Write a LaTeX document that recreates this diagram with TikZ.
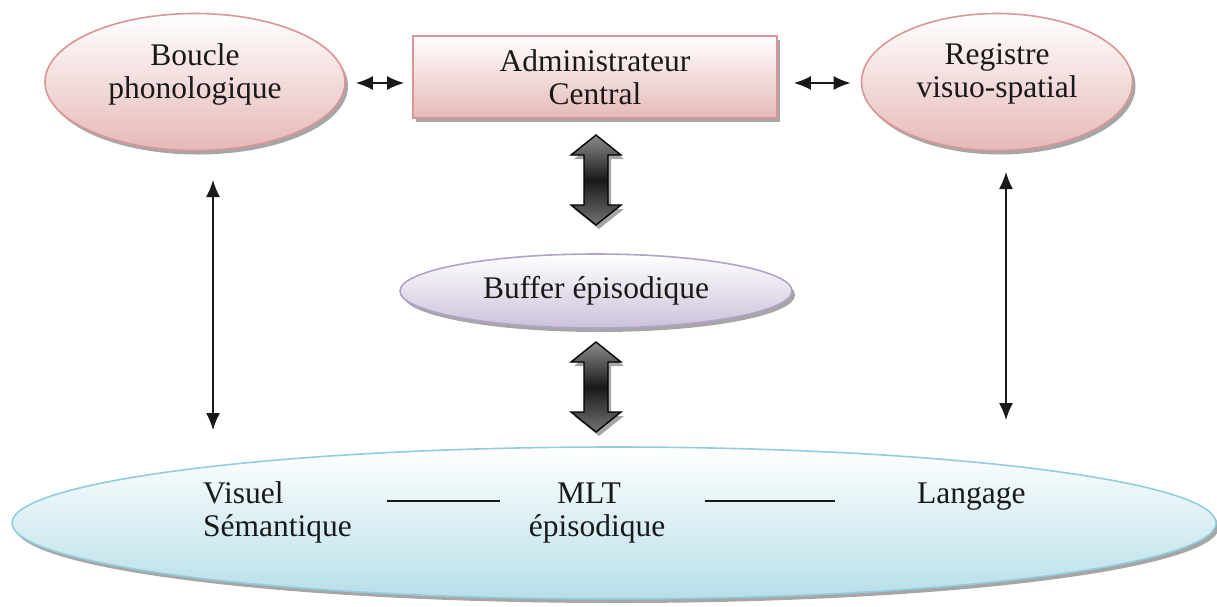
\documentclass[tikz,border=0pt]{standalone}
\usepackage{fontspec}
\setmainfont{Liberation Serif}
\usetikzlibrary{arrows.meta,shapes.geometric,shadows}
\definecolor{pinkfill}{HTML}{E6B9B8}
\definecolor{pinkline}{HTML}{D99694}
\definecolor{lavfill}{HTML}{CCC1DA}
\definecolor{lavline}{HTML}{B3A2C7}
\definecolor{bluefill}{HTML}{B7DEE8}
\definecolor{blueline}{HTML}{93CDDD}
\tikzset{
  txt/.style={font=\fontsize{31.5}{33}\selectfont, text=black!90},
  shad/.style={drop shadow={shadow xshift=3pt, shadow yshift=-4pt, fill=black, opacity=0.35}},
  pinkell/.style={ellipse, draw=pinkline, line width=1.6pt, top color=white, bottom color=pinkfill, shad, inner sep=0pt},
  pinkbox/.style={rectangle, draw=pinkline, line width=1.6pt, top color=white, bottom color=pinkfill, shad, inner sep=0pt, align=center, txt},
  lavell/.style={ellipse, draw=lavline, line width=1.6pt, top color=white, bottom color=lavfill, shad, inner sep=0pt, align=center, txt},
  blueell/.style={ellipse, draw=blueline, line width=1.6pt, top color=white, bottom color=bluefill, shad, inner sep=0pt},
  thinarrow/.style={{Latex[length=17pt,width=14pt]}-{Latex[length=17pt,width=14pt]}, line width=2pt, black!90},
  vertarrow/.style={{Latex[length=17pt,width=14pt]}-{Latex[length=17pt,width=14pt]}, line width=1.5pt, black!90},
  fatarrow/.style={draw=black, line width=1.4pt, top color=black!45, bottom color=black!55, middle color=black!90, drop shadow={shadow xshift=3pt, shadow yshift=-4pt, fill=black, opacity=0.35}},
  dashline/.style={line width=1.4pt, black!90}
}
\begin{document}
\begin{tikzpicture}[x=1pt,y=-1pt]
\useasboundingbox (0,0) rectangle (1217,606);
% nodes
\node[pinkell, minimum width=300pt, minimum height=137pt] (boucle) at (195,82) {};
\node[txt, align=center, inner sep=0pt] (bouclet) at ([yshift=8pt]boucle.center) {Boucle\\phonologique};
\node[pinkbox, minimum width=364pt, minimum height=82pt] (admin) at (595,77) {Administrateur\\Central};
\node[pinkell, minimum width=271pt, minimum height=137pt] (registre) at (997,82) {};
\node[txt, align=center, inner sep=0pt] (registret) at ([yshift=8pt]registre.center) {Registre\\visuo-spatial};
\node[lavell, minimum width=392pt, minimum height=74pt] (buffer) at (596,291) {Buffer épisodique};
\node[blueell, minimum width=1204pt, minimum height=152pt] (mlt) at (614,523) {};
% texts inside MLT
\node[txt, anchor=base west, inner sep=0pt] (vis) at (203,503) {Visuel};
\node[txt, anchor=base west, inner sep=0pt] (sem) at (203,536) {Sémantique};
\node[txt, anchor=base, inner sep=0pt] (mltt) at (589,503) {MLT};
\node[txt, anchor=base, inner sep=0pt] (epi) at (597,536) {épisodique};
\node[txt, anchor=base west, inner sep=0pt] (lang) at (917,503) {Langage};
\coordinate (l1a) at (387,501); \coordinate (l1b) at (500,501);
\coordinate (l2a) at (705,501); \coordinate (l2b) at (835,501);
\draw[dashline] (l1a) -- (l1b);
\draw[dashline] (l2a) -- (l2b);
% small horizontal arrows
\draw[thinarrow] ([xshift=10pt]boucle.east |- 0,83) -- ([xshift=-8pt]admin.west |- 0,83);
\draw[thinarrow] ([xshift=16pt]admin.east |- 0,83) -- ([xshift=-10pt]registre.west |- 0,83);
% vertical arrows
\coordinate (v1a) at (213,180); \coordinate (v1b) at (213,430);
\coordinate (v2a) at (1006,172); \coordinate (v2b) at (1006,420);
\draw[vertarrow] (v1a) -- (v1b);
\draw[vertarrow] (v2a) -- (v2b);
% fat double arrows
\foreach \cy in {180,387}{
  \path[fatarrow] (596,\cy-45) -- (621,\cy-25) -- (608,\cy-25) -- (608,\cy+25) -- (621,\cy+25)
    -- (596,\cy+45) -- (571,\cy+25) -- (584,\cy+25) -- (584,\cy-25) -- (571,\cy-25) -- cycle;
}
\end{tikzpicture}
\end{document}
